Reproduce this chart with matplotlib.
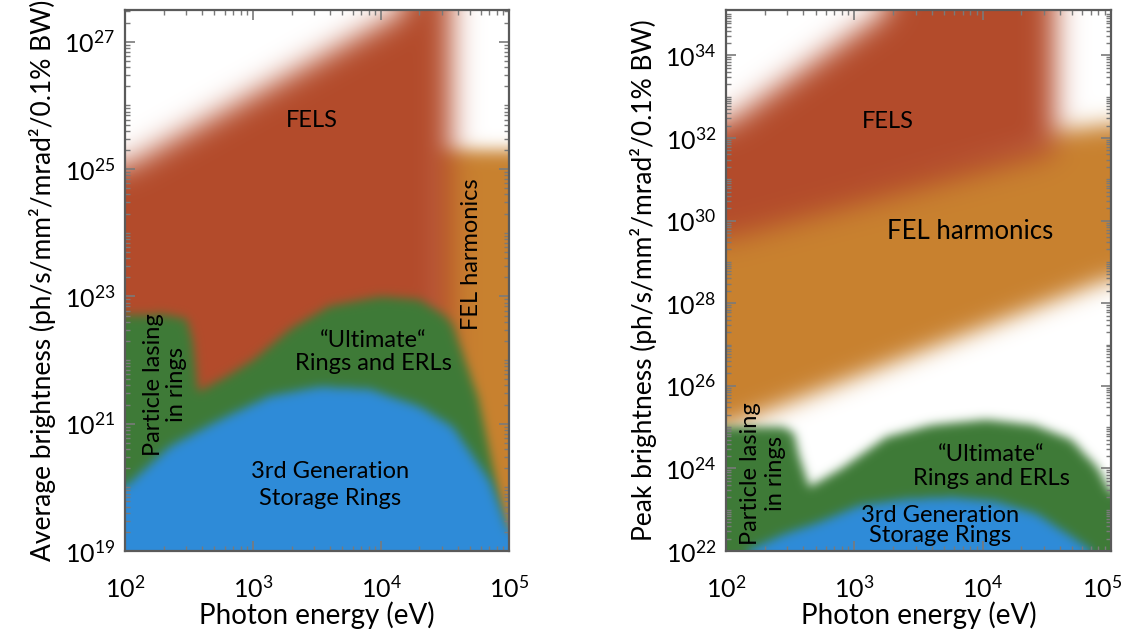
import numpy as np
import matplotlib.pyplot as plt
from matplotlib.colors import to_rgb
from matplotlib.transforms import ScaledTranslation
from matplotlib.ticker import FixedLocator, LogLocator, NullFormatter, LogFormatterSciNotation

plt.rcParams['font.family'] = ['Lato', 'DejaVu Sans']
plt.rcParams['mathtext.fontset'] = 'custom'
plt.rcParams['mathtext.rm'] = 'Lato'
plt.rcParams['mathtext.it'] = 'Lato:italic'
plt.rcParams['mathtext.bf'] = 'Lato:bold'

fel_red = '#B34B2B'
harm_orange = '#C8812F'
ring_green = '#3E7A37'
sr_blue = '#2E8BD8'

# all values are log10(photon energy / eV) and log10(brightness)
# --- average brightness ---
avg_ylim = (19.0, 27.5)
avg_fel_top_E = [2.0, 5.0]
avg_fel_top_B = [25.05, 28.41]
avg_fel_right_E = 4.55
avg_harm_E = [4.38, 5.2]
avg_harm_top_B = 25.3
avg_green_E = [2.0, 2.3, 2.48, 2.53, 2.57, 2.8, 3.0, 3.3, 3.6, 4.0, 4.3, 4.5, 4.56, 4.76, 4.93, 5.0]
avg_green_B = [22.7, 22.72, 22.65, 22.3, 21.5, 21.75, 22.0, 22.5, 22.85, 23.0, 22.95, 22.7, 22.55, 21.4, 19.8, 19.2]
avg_blue_E = [2.0, 2.35, 2.74, 3.13, 3.52, 3.91, 4.3, 4.56, 4.85, 5.0]
avg_blue_B = [20.0, 20.64, 21.06, 21.43, 21.58, 21.54, 21.27, 20.95, 20.1, 19.3]

# --- peak brightness ---
pk_ylim = (22.0, 35.1)
pk_fel_top_E = [2.0, 5.0]
pk_fel_top_B = [32.35, 38.9]
pk_fel_bot_E = [2.0, 5.0]
pk_fel_bot_B = [29.55, 32.0]
pk_fel_right_E = 4.56
pk_harm_bot_E = [2.0, 5.0]
pk_harm_bot_B = [25.0, 28.6]
pk_harm_top_E = [2.0, 5.0]
pk_harm_top_B = [31.0, 32.35]
pk_green_E = [2.0, 2.45, 2.53, 2.57, 2.65, 2.9, 3.25, 3.6, 4.03, 4.4, 4.69, 4.9, 5.0]
pk_green_B = [25.0, 25.0, 24.85, 24.3, 23.55, 24.0, 24.76, 25.05, 25.18, 25.05, 24.7, 24.0, 23.4]
pk_blue_E = [2.0, 2.2, 2.45, 2.73, 3.04, 3.4, 3.76, 4.1, 4.42, 4.69, 4.9, 5.0]
pk_blue_B = [21.8, 22.05, 22.4, 22.7, 23.1, 23.25, 23.3, 23.2, 22.9, 22.35, 21.9, 21.7]


def blur(m, s):
    r = int(3 * s) + 1
    k = np.exp(-0.5 * (np.arange(-r, r + 1) / s) ** 2)
    k /= k.sum()
    p = np.pad(m, r, mode='edge')
    ny, nx = m.shape
    t = np.zeros((ny + 2 * r, nx))
    for i, w in enumerate(k):
        t += w * p[:, i:i + nx]
    out = np.zeros((ny, nx))
    for i, w in enumerate(k):
        out += w * t[i:i + ny, :]
    return out


def paint(ax, ylim, layers, nx=384, ny=541):
    lxe = np.linspace(2, 5, nx + 1)
    lye = np.linspace(ylim[0], ylim[1], ny + 1)
    lx = 0.5 * (lxe[1:] + lxe[:-1])
    ly = 0.5 * (lye[1:] + lye[:-1])
    LX, LY = np.meshgrid(lx, ly)
    rgb = np.ones((ny, nx, 3))
    for mask_fn, color, s in layers:
        a = blur(mask_fn(LX, LY).astype(float), s)[..., None]
        rgb = rgb * (1 - a) + np.array(to_rgb(color)) * a
    ax.pcolormesh(10 ** lxe, 10 ** lye, rgb, shading='flat',
                  antialiased=False, edgecolors='none', rasterized=True)


def style(ax, ylim, majors, ylabel):
    ax.set_xscale('log')
    ax.set_yscale('log')
    ax.set_xlim(1e2, 1e5)
    ax.set_ylim(10 ** ylim[0], 10 ** ylim[1])
    ax.xaxis.set_major_locator(FixedLocator([1e2, 1e3, 1e4, 1e5]))
    ax.yaxis.set_major_locator(FixedLocator([10.0 ** m for m in majors]))
    ax.xaxis.set_major_formatter(LogFormatterSciNotation())
    ax.yaxis.set_major_formatter(LogFormatterSciNotation())
    for axis in (ax.xaxis, ax.yaxis):
        axis.set_minor_locator(LogLocator(base=10, subs=np.arange(1, 10), numticks=100))
        axis.set_minor_formatter(NullFormatter())
    ax.tick_params(which='both', direction='in', top=True, right=True,
                   color='#7a7a7a', labelsize=18, labelcolor='black')
    ax.tick_params(which='major', length=7, width=1.2)
    ax.tick_params(which='minor', length=3.5, width=1)
    ax.tick_params(axis='x', pad=17)
    ax.tick_params(axis='y', pad=7)
    for sp in ax.spines.values():
        sp.set_color('#5a5a5a')
        sp.set_linewidth(1.6)
    ax.set_xlabel('Photon energy (eV)', fontsize=20, labelpad=0)
    ax.set_ylabel(ylabel, fontsize=19, labelpad=6)


fig = plt.figure(figsize=(11.29, 6.37), dpi=100)
ax1 = fig.add_axes([0.1107, 0.135, 0.3401, 0.8493])
ax2 = fig.add_axes([0.643, 0.135, 0.341, 0.8493])

avg_layers = [
    (lambda X, Y: (X >= avg_harm_E[0]) & (Y <= avg_harm_top_B), harm_orange, 8),
    (lambda X, Y: (X <= avg_fel_right_E) & (Y <= np.interp(X, avg_fel_top_E, avg_fel_top_B)), fel_red, 14),
    (lambda X, Y: Y <= np.interp(X, avg_green_E, avg_green_B), ring_green, 5),
    (lambda X, Y: Y <= np.interp(X, avg_blue_E, avg_blue_B), sr_blue, 5),
]
paint(ax1, avg_ylim, avg_layers)

pk_layers = [
    (lambda X, Y: (Y >= np.interp(X, pk_harm_bot_E, pk_harm_bot_B)) & (Y <= np.interp(X, pk_harm_top_E, pk_harm_top_B)), harm_orange, 11),
    (lambda X, Y: (X <= pk_fel_right_E) & (Y >= np.interp(X, pk_fel_bot_E, pk_fel_bot_B)) & (Y <= np.interp(X, pk_fel_top_E, pk_fel_top_B)), fel_red, 14),
    (lambda X, Y: Y <= np.interp(X, pk_green_E, pk_green_B), ring_green, 5),
    (lambda X, Y: Y <= np.interp(X, pk_blue_E, pk_blue_B), sr_blue, 5),
]
paint(ax2, pk_ylim, pk_layers, nx=385)

style(ax1, avg_ylim, [19, 21, 23, 25, 27],
      'Average brightness (ph/s/mm²/mrad²/0.1% BW)')
style(ax2, pk_ylim, [22, 24, 26, 28, 30, 32, 34],
      'Peak brightness (ph/s/mm²/mrad²/0.1% BW)')

# keep the last "10^5" inside the figure
last = ax2.xaxis.get_major_ticks()[-1].label1
last.set_transform(last.get_transform() + ScaledTranslation(-6 / 72, 0, fig.dpi_scale_trans))

fs = 17
# labels for average brightness
ax1.text(10 ** 3.46, 10 ** 25.76, 'FELS', fontsize=fs, ha='center', va='center')
ax1.text(10 ** 4.71, 10 ** 23.66, 'FEL harmonics', fontsize=fs, ha='center', va='center', rotation=90)
ax1.text(10 ** 3.94, 10 ** 22.13, '“Ultimate“\nRings and ERLs', fontsize=fs, ha='center', va='center',
         multialignment='center', linespacing=1.1)
ax1.text(10 ** 2.31, 10 ** 21.61, 'Particle lasing\nin rings', fontsize=fs, ha='center', va='center',
         rotation=90, multialignment='center', linespacing=1.1)
ax1.text(10 ** 3.6, 10 ** 20.04, '3rd Generation\nStorage Rings', fontsize=fs, ha='center', va='center',
         multialignment='center', linespacing=1.35)

# labels for peak brightness
ax2.text(10 ** 3.26, 10 ** 32.4, 'FELS', fontsize=fs, ha='center', va='center')
ax2.text(10 ** 3.9, 10 ** 29.73, 'FEL harmonics', fontsize=18.5, ha='center', va='center')
ax2.text(10 ** 4.07, 10 ** 24.04, '“Ultimate“\nRings and ERLs', fontsize=fs, ha='center', va='center',
         multialignment='center', linespacing=1.2)
ax2.text(10 ** 2.29, 10 ** 23.87, 'Particle lasing\nin rings', fontsize=fs, ha='center', va='center',
         rotation=90, multialignment='center', linespacing=1.2)
ax2.text(10 ** 3.67, 10 ** 22.61, '3rd Generation\nStorage Rings', fontsize=fs, ha='center', va='center',
         multialignment='center', linespacing=0.95)

fig.savefig('out.png', dpi=100)
